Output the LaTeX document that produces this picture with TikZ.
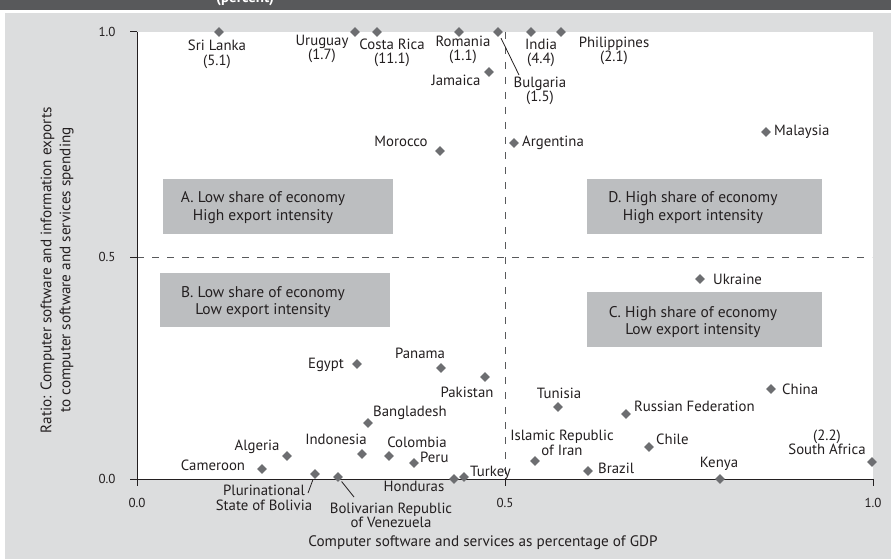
\documentclass[tikz,border=0pt]{standalone}
\usepackage{fontspec}
\setmainfont{PT Sans}
\usetikzlibrary{shapes.geometric}
\definecolor{hdr}{HTML}{58595B}
\definecolor{bgc}{HTML}{DCDDDE}
\definecolor{boxc}{HTML}{BCBEC0}
\definecolor{ptc}{HTML}{6D6E71}
\definecolor{axc}{HTML}{231F20}
\tikzset{
  pt/.style={diamond, fill=ptc, inner sep=0, minimum width=10, minimum height=10},
  lab/.style={font=\fontsize{14.8}{14.5}\selectfont, inner sep=0, text=axc},
  labtwo/.style={lab, align=center},
  labw/.style={lab, anchor=west},
  quad/.style={fill=boxc, inner sep=0},
  qtxt/.style={font=\fontsize{15.5}{17.7}\selectfont, inner sep=0, align=center, text=axc},
  tick/.style={font=\fontsize{13}{13}\selectfont, inner sep=0, text=axc},
  ttl/.style={font=\fontsize{15.2}{19}\selectfont, inner sep=0, align=center, text=axc},
  axis/.style={draw=axc, line width=1},
  guide/.style={draw=hdr, line width=0.9, dash pattern=on 7 off 8},
  leader/.style={draw=axc, line width=0.8}
}
\begin{document}
\begin{tikzpicture}[x=1pt,y=-1pt]
\useasboundingbox (0,0) rectangle (891,559);
\fill[white] (0,0) rectangle (891,559);
\fill[hdr] (0,0) rectangle (891,10);
\begin{scope}
\clip (0,0) rectangle (891,10);
\node[text=white, font=\bfseries\fontsize{15}{15}\selectfont, inner sep=0, anchor=base west] (hdrtxt) at (216,2.5) {(percent)};
\end{scope}
\fill[bgc] (5,13) rectangle (891,559);
\fill[white] (137,32) rectangle (873,479);

% quadrant boxes
\node[quad, minimum width=230, minimum height=55] (boxA) at (278,206.5) {};
\node[quad, minimum width=230, minimum height=54] (boxB) at (275,300) {};
\node[quad, minimum width=235, minimum height=55] (boxD) at (704.5,206.5) {};
\node[quad, minimum width=235, minimum height=55] (boxC) at (704.5,319.5) {};
\node[qtxt] (txtA) at (263,207.5) {A. Low share of economy\\High export intensity};
\node[qtxt] (txtB) at (263,302) {B. Low share of economy\\Low export intensity};
\node[qtxt] (txtD) at (693,207.5) {D. High share of economy\\High export intensity};
\node[qtxt] (txtC) at (693,322) {C. High share of economy\\Low export intensity};

% guides
\coordinate (hL) at (137,257); \coordinate (hR) at (872,257);
\coordinate (vT) at (505,32); \coordinate (vB) at (505,479);
\draw[guide] (hL) -- (hR);
\draw[guide] (vT) -- (vB);

% axes
\coordinate (o) at (137,479); \coordinate (yt) at (137,32); \coordinate (xr) at (873,479);
\draw[axis] (yt) -- (o) -- (xr);
\foreach \y/\n in {32/a,257/b,479/c} { \coordinate (ty\n) at (130,\y); \coordinate (ay\n) at (137,\y); \draw[axis] (ty\n) -- (ay\n); }
\foreach \x/\n in {137/a,505/b,873/c} { \coordinate (tx\n) at (\x,486); \coordinate (ax\n) at (\x,479); \draw[axis] (ax\n) -- (tx\n); }
\node[tick] (yl1) at (107,32) {1.0};
\node[tick] (yl2) at (107,257) {0.5};
\node[tick] (yl3) at (107,479) {0.0};
\node[tick] (xl1) at (137,503) {0.0};
\node[tick] (xl2) at (505,503) {0.5};
\node[tick] (xl3) at (873,503) {1.0};
\node[ttl] (xtitle) at (483,543) {Computer software and services as percentage of GDP};
\node[ttl, rotate=90] (ytitle) at (57,270) {Ratio: Computer software and information exports\\to computer software and services spending};

% data points
\node[pt] (srilanka) at (219,32) {};
\node[pt] (uruguay) at (355,32) {};
\node[pt] (costarica) at (377,32) {};
\node[pt] (romania) at (459,32) {};
\node[pt] (bulgaria) at (498,32) {};
\node[pt] (india) at (531,32) {};
\node[pt] (philippines) at (561,32) {};
\node[pt] (jamaica) at (489,72) {};
\node[pt] (morocco) at (440,151) {};
\node[pt] (argentina) at (514,143) {};
\node[pt] (malaysia) at (766,132) {};
\node[pt] (ukraine) at (700,279) {};
\node[pt] (egypt) at (357,364) {};
\node[pt] (panama) at (441,368) {};
\node[pt] (pakistan) at (485,377) {};
\node[pt] (tunisia) at (558,407) {};
\node[pt] (russia) at (626,414) {};
\node[pt] (china) at (771,389) {};
\node[pt] (bangladesh) at (368,423) {};
\node[pt] (algeria) at (287,456) {};
\node[pt] (indonesia) at (362,454) {};
\node[pt] (colombia) at (389,456) {};
\node[pt] (peru) at (414,463) {};
\node[pt] (cameroon) at (262,469) {};
\node[pt] (iran) at (535,461) {};
\node[pt] (chile) at (649,447) {};
\node[pt] (brazil) at (588,471) {};
\node[pt] (kenya) at (720,479) {};
\node[pt] (southafrica) at (872,462) {};
\node[pt] (bolivia) at (315,474) {};
\node[pt] (venezuela) at (338,477) {};
\node[pt] (honduras) at (454,479) {};
\node[pt] (turkey) at (464,477) {};

% labels
\node[labtwo] (srilankaL) at (217,54.5) {Sri Lanka\\(5.1)};
\node[labtwo] (uruguayL) at (322,49) {Uruguay\\(1.7)};
\node[labtwo] (costaricaL) at (392,53) {Costa Rica\\(11.1)};
\node[labtwo] (romaniaL) at (463,50) {Romania\\(1.1)};
\node[labtwo] (indiaL) at (541,53) {India\\(4.4)};
\node[labtwo] (philippinesL) at (614,51) {Philippines\\(2.1)};
\node[labtwo] (bulgariaL) at (540,91) {Bulgaria\\(1.5)};
\node[lab] (jamaicaL) at (456,80) {Jamaica};
\node[lab] (moroccoL) at (401,141) {Morocco};
\node[labw] (argentinaL) at (522,143) {Argentina};
\node[labw] (malaysiaL) at (774,132) {Malaysia};
\node[labw] (ukraineL) at (713,279) {Ukraine};
\node[lab] (egyptL) at (326,365) {Egypt};
\node[lab] (panamaL) at (420,353) {Panama};
\node[lab] (pakistanL) at (467,392) {Pakistan};
\node[lab] (tunisiaL) at (559,393) {Tunisia};
\node[labw] (russiaL) at (634,406) {Russian Federation};
\node[labw] (chinaL) at (782,389) {China};
\node[labw] (bangladeshL) at (373,413) {Bangladesh};
\node[lab] (algeriaL) at (257,447) {Algeria};
\node[lab] (indonesiaL) at (336,439) {Indonesia};
\node[lab] (colombiaL) at (417,442) {Colombia};
\node[labw] (peruL) at (420,457) {Peru};
\node[lab] (cameroonL) at (213,465) {Cameroon};
\node[labtwo] (iranL) at (562,443) {Islamic Republic\\of Iran};
\node[labw] (chileL) at (656,439) {Chile};
\node[labw] (brazilL) at (598,468) {Brazil};
\node[lab] (kenyaL) at (719,464) {Kenya};
\node[labtwo] (southafricaL) at (827,442.5) {(2.2)\\South Africa};
\node[labtwo] (boliviaL) at (264,498) {Plurinational\\State of Bolivia};
\node[labtwo] (venezuelaL) at (391,515.5) {Bolivarian Republic\\of Venezuela};
\node[lab] (hondurasL) at (414,486) {Honduras};
\node[labw] (turkeyL) at (470,473) {Turkey};

% leader lines
\coordinate (bgE) at (519,75);
\coordinate (boE) at (308,493);
\coordinate (veE) at (354,497);
\draw[leader, shorten <=3] (bulgaria) -- (bgE);
\draw[leader, shorten <=2] (bolivia) -- (boE);
\draw[leader, shorten <=2] (venezuela) -- (veE);
\end{tikzpicture}
\end{document}
